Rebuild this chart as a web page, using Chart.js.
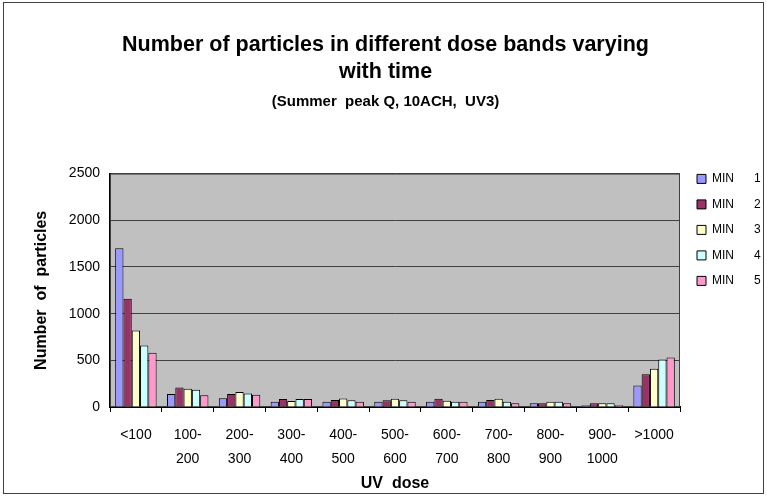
<!DOCTYPE html>
<html>
<head>
<meta charset="utf-8">
<script src="https://cdn.jsdelivr.net/npm/chart.js@4"></script>
<style>
  html, body { margin: 0; padding: 0; background: #fff; }
  #wrap { width: 767px; height: 496px; }
</style>
</head>
<body>
<div id="wrap"><canvas id="c" width="767" height="496"></canvas></div>
<script>
const categories = [['<100'], ['100-', '200'], ['200-', '300'], ['300-', '400'], ['400-', '500'],
  ['500-', '600'], ['600-', '700'], ['700-', '800'], ['800-', '900'], ['900-', '1000'], ['>1000']];
const seriesNames = ['MIN      1', 'MIN      2', 'MIN      3', 'MIN      4', 'MIN      5'];
const min1 = [1700, 140, 95, 55, 55, 55, 55, 55, 40, 20, 230];
const min2 = [1160, 210, 140, 85, 75, 72, 88, 75, 40, 40, 350];
const min3 = [820, 195, 160, 65, 90, 88, 68, 88, 55, 40, 410];
const min4 = [660, 185, 145, 85, 72, 72, 55, 55, 55, 40, 510];
const min5 = [580, 125, 130, 85, 55, 55, 55, 40, 40, 20, 530];
const yTicks = [0, 500, 1000, 1500, 2000, 2500];
const colors = ['#9999ff', '#993366', '#ffffcc', '#ccffff', '#ff99cc'];
const seriesValues = [min1, min2, min3, min4, min5];

const FONT = "'Liberation Sans', Arial, sans-serif";

const framePlugin = {
  id: 'frame',
  beforeDraw(chart) {
    const ctx = chart.ctx;
    const a = chart.chartArea;
    ctx.save();
    ctx.fillStyle = '#ffffff';
    ctx.fillRect(0, 0, chart.width, chart.height);
    ctx.strokeStyle = '#404040';
    ctx.lineWidth = 1;
    ctx.strokeRect(3.5, 2.5, chart.width - 7, chart.height - 5);
    ctx.fillStyle = '#c0c0c0';
    ctx.fillRect(a.left, a.top, a.right - a.left, a.bottom - a.top);
    ctx.restore();
  },
  beforeDatasetsDraw(chart) {
    const ctx = chart.ctx;
    const a = chart.chartArea;
    ctx.save();
    ctx.strokeStyle = '#404040';
    ctx.lineWidth = 1;
    ctx.strokeRect(a.left + 0.5, a.top + 0.5, a.right - a.left - 1, a.bottom - a.top - 1);
    ctx.restore();
  }
};

new Chart(document.getElementById('c'), {
  type: 'bar',
  data: {
    labels: categories,
    datasets: seriesValues.map((vals, i) => ({
      label: seriesNames[i],
      data: vals,
      backgroundColor: colors[i],
      borderColor: '#000000',
      borderWidth: 1,
      categoryPercentage: 0.8,
      barPercentage: 1.0
    }))
  },
  options: {
    responsive: false,
    animation: false,
    devicePixelRatio: 1,
    layout: { padding: { left: 4, right: 0, top: 0, bottom: 0 } },
    plugins: {
      title: {
        display: true,
        text: ['Number of particles in different dose bands varying', 'with time'],
        color: '#000',
        font: { family: FONT, size: 21.5, weight: 'bold', lineHeight: 1.27 },
        padding: { top: 31, bottom: 7 }
      },
      subtitle: {
        display: true,
        text: '(Summer  peak Q, 10ACH,  UV3)',
        color: '#000',
        font: { family: FONT, size: 15, weight: 'bold', lineHeight: 1.2 },
        padding: { top: 0, bottom: 63 }
      },
      legend: {
        position: 'right',
        align: 'start',
        maxWidth: 83.5,
        title: { display: true, text: '', font: { family: FONT, size: 12 }, padding: { top: 145, bottom: 0 } },
        labels: {
          color: '#000',
          font: { family: FONT, size: 12 },
          boxWidth: 9,
          boxHeight: 9,
          padding: 13.5
        }
      },
      tooltip: { enabled: false }
    },
    scales: {
      x: {
        grid: { display: true, drawOnChartArea: false, drawTicks: true, tickLength: 5, color: '#000', offset: true },
        border: { display: true, color: '#000', width: 2 },
        ticks: {
          color: '#000', font: { family: FONT, size: 14, lineHeight: 1.65 },
          padding: 12, maxRotation: 0, autoSkip: false
        },
        title: {
          display: true, text: 'UV  dose', color: '#000',
          font: { family: FONT, size: 16, weight: 'bold', lineHeight: 1.2 },
          padding: { top: 0, bottom: 3 }
        },
        afterFit(s) { s.height = 89; }
      },
      y: {
        min: 0, max: 2500,
        afterBuildTicks(s) { s.ticks = yTicks.map(v => ({ value: v })); },
        grid: { display: true, drawTicks: false, color: '#404040', lineWidth: 1 },
        border: { display: true, color: '#000', width: 2 },
        ticks: {
          color: '#000', font: { family: FONT, size: 14 }, padding: 10,
          callback: (v) => String(v)
        },
        title: {
          display: true, text: 'Number  of  particles', color: '#000',
          font: { family: FONT, size: 16, weight: 'bold', lineHeight: 1.2 },
          padding: { top: 28, bottom: 0 }
        },
        afterFit(s) { s.width = 106; }
      },
      yGap: {
        position: 'right',
        display: true,
        grid: { display: false },
        border: { display: false },
        ticks: { display: false },
        afterFit(s) { s.width = 3.5; }
      }
    }
  },
  plugins: [framePlugin]
});
</script>
</body>
</html>
